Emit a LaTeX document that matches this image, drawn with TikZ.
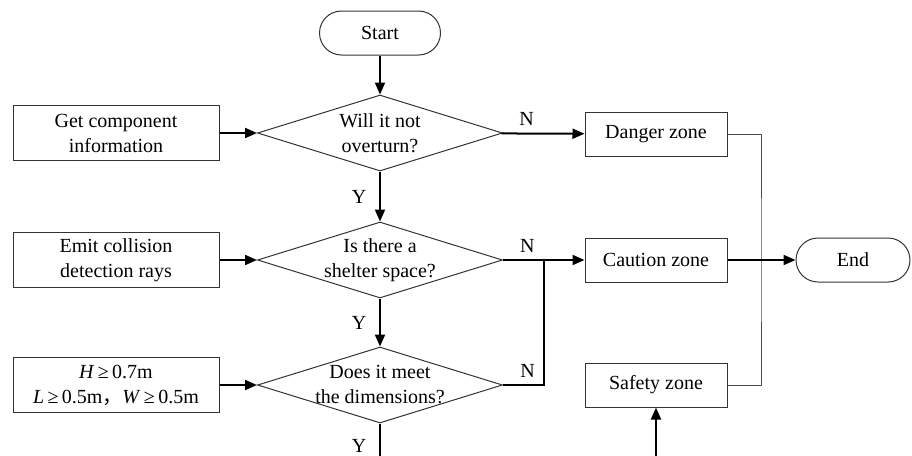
\documentclass[tikz,border=0pt]{standalone}
\usepackage{fontspec}
\setmainfont{Liberation Serif}
\newfontfamily\cjk{Noto Sans CJK SC}
\usetikzlibrary{arrows.meta,shapes.geometric}
\tikzset{
    box/.style={draw=black!80, line width=0.5pt, minimum width=103pt, minimum height=27.5pt, align=center, inner sep=1pt},
    zone/.style={draw=black!80, line width=0.5pt, minimum width=71pt, minimum height=22pt},
    terminal/.style={draw=black!80, line width=0.5pt, rounded corners=11pt, minimum width=60.5pt, minimum height=22pt},
    decision/.style={draw=black!80, line width=0.5pt, diamond, minimum width=122.5pt, minimum height=38pt, inner sep=0pt},
    flow/.style={-{Triangle[length=6pt,width=5pt]}, line width=1pt},
    plain/.style={line width=1pt},
    bus/.style={line width=0.5pt, black!70},
    ylab/.style={left, xshift=-3pt},
    nlab/.style={above, pos=0.3}
}
\begin{document}
\begin{tikzpicture}[x=0.5pt, y=-0.5pt, font=\fontsize{10pt}{12.5pt}\selectfont]
    \useasboundingbox (0,0) rectangle (912,456);
    % main column
    \node[terminal] (start) at (380,33) {Start};
    \node[decision, label={[align=center]center:Will it not\\overturn?}] (d1) at (380,133) {};
    \node[decision, label={[align=center]center:Is there a\\shelter space?}] (d2) at (380,260) {};
    \node[decision, label={[align=center]center:Does it meet\\the dimensions?}] (d3) at (380,385) {};
    % inputs
    \node[box] (info) at (116,133) {Get component\\information};
    \node[box] (rays) at (116,260) {Emit collision\\detection rays};
    \node[box] (dims) at (116,385) {\textit{H}\,≥\,0.7m\\\textit{L}\,≥\,0.5m{\cjk ，}\textit{W}\,≥\,0.5m};
    % zones
    \node[zone] (danger) at (656,134) {Danger zone};
    \node[zone] (caution) at (656,260) {Caution zone};
    \node[zone] (safety) at (656,385) {Safety zone};
    \node[terminal, minimum width=57pt] (end) at (853,260) {End};
    \coordinate (jn) at (544,260);
    \coordinate (bus) at (761,260);
    \coordinate (bot1) at (380,456);
    \coordinate (bot2) at (656,456);
    % connectors
    \draw[flow] (start) -- (d1);
    \draw[flow] (info) -- (d1);
    \draw[flow] (rays) -- (d2);
    \draw[flow] (dims) -- (d3);
    \draw[flow] (d1) -- node[ylab]{Y} (d2);
    \draw[flow] (d2) -- node[ylab]{Y} (d3);
    \draw[plain] (d3) -- node[ylab, pos=0.7]{Y} (bot1);
    \draw[flow] (d1) -- node[nlab]{N} (danger);
    \draw[flow] (d2) -- node[nlab]{N} (caution);
    \draw[plain] (d3.east) -| node[above, pos=0.3]{N} (jn);
    \draw[bus] (danger.east) -| (bus) |- (safety.east);
    \draw[flow] (caution) -- (end);
    \draw[flow] (bot2) -- (safety);
\end{tikzpicture}
\end{document}
